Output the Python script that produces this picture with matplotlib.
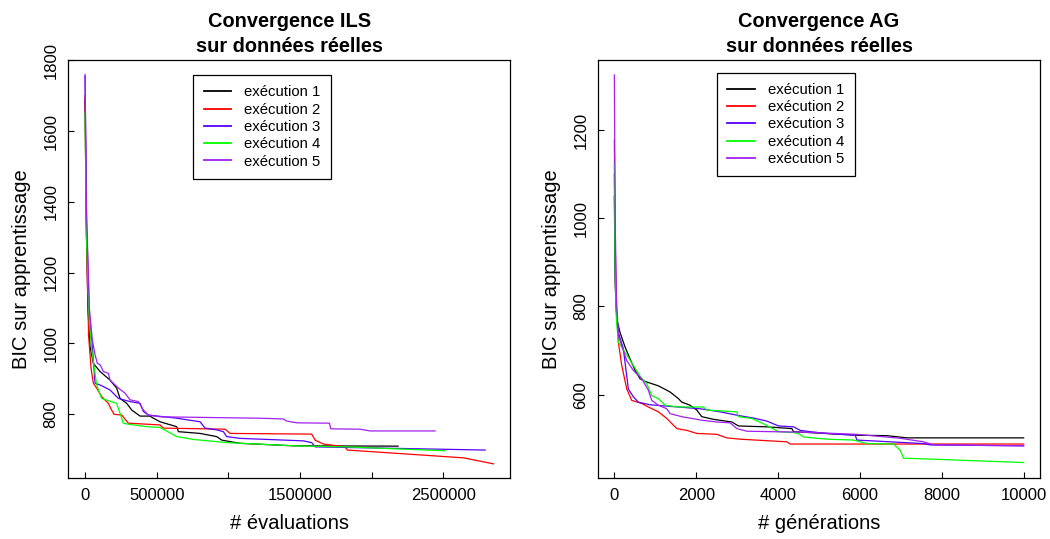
import matplotlib
matplotlib.use('Agg')
import matplotlib.pyplot as plt

plt.rcParams['font.family'] = ['Liberation Sans', 'DejaVu Sans']

colors = ['black', '#FF0000', '#5500FF', '#00FF00', '#A020F0']
labels = ['exécution 1', 'exécution 2', 'exécution 3', 'exécution 4', 'exécution 5']

# ILS : nombre d'evaluations / BIC
ils_eval_1 = [0, 8000, 20000, 35000, 58000, 105000, 174000, 221000, 244000, 291000, 326000, 384000,
              453000, 477000, 523000, 640000, 651000, 802000, 919000, 954000, 1081000, 1451000, 2184000]
ils_bic_1 = [1690, 1350, 1100, 990, 943, 920, 896, 873, 844, 830, 811, 794,
             794, 788, 778, 764, 750, 745, 736, 726, 717, 710, 709]
ils_eval_2 = [0, 10000, 25000, 42000, 58000, 81000, 116000, 163000, 179000, 202000, 256000, 302000,
              523000, 546000, 977000, 1012000, 1581000, 1605000, 1663000, 1814000, 1830000, 2639000, 2849000]
ils_bic_2 = [1700, 1300, 1020, 929, 887, 873, 849, 830, 816, 799, 797, 774,
             769, 760, 757, 745, 743, 726, 715, 707, 698, 676, 659]
ils_eval_3 = [0, 10000, 30000, 51000, 70000, 105000, 174000, 233000, 314000, 384000, 407000, 442000,
              640000, 802000, 837000, 919000, 965000, 988000, 1081000, 1523000, 1581000, 1605000, 2791000]
ils_bic_3 = [1755, 1350, 1080, 990, 887, 882, 868, 844, 835, 830, 807, 797,
             788, 778, 760, 755, 750, 736, 731, 724, 719, 707, 698]
ils_eval_4 = [0, 10000, 30000, 47000, 81000, 116000, 221000, 267000, 302000, 430000, 523000, 640000,
              756000, 988000, 1453000, 1814000, 2512000]
ils_bic_4 = [1650, 1300, 1060, 981, 882, 844, 830, 774, 771, 764, 762, 736,
             728, 719, 710, 707, 696]
ils_eval_5 = [0, 10000, 30000, 51000, 70000, 86000, 105000, 128000, 163000, 174000, 233000, 279000,
              314000, 372000, 407000, 442000, 523000, 1221000, 1383000, 1407000, 1477000, 1705000,
              1714000, 1919000, 1988000, 2442000]
ils_bic_5 = [1760, 1380, 1100, 1009, 967, 943, 939, 920, 915, 896, 873, 859,
             840, 835, 811, 797, 792, 788, 786, 780, 775, 774,
             758, 757, 752, 752]

# AG : generations / BIC
ag_gen_1 = [0, 20, 59, 139, 262, 384, 506, 628, 751, 1076, 1362, 1565, 1648, 1851, 2015, 2137,
            2421, 2870, 3032, 3726, 4338, 4377, 5927, 6660, 7150, 10000]
ag_bic_1 = [1050, 850, 771, 741, 708, 681, 655, 636, 630, 620, 606, 591, 583, 576, 565, 550,
            544, 538, 529, 527, 523, 516, 508, 507, 502, 502]
ag_gen_2 = [0, 20, 50, 98, 181, 303, 425, 670, 831, 1076, 1281, 1526, 1770, 2015, 2504, 2748,
            3073, 4215, 4296, 10000]
ag_bic_2 = [1178, 950, 800, 719, 666, 613, 587, 580, 572, 561, 546, 523, 519, 512, 510, 502,
            499, 493, 488, 488]
ag_gen_3 = [0, 20, 50, 98, 220, 342, 465, 587, 873, 1281, 2095, 2584, 3073, 3399, 3726, 4010,
            4377, 4540, 4785, 5193, 5885, 5927, 6741, 7555, 7719, 10000]
ag_bic_3 = [1100, 900, 790, 741, 704, 613, 595, 583, 577, 574, 568, 561, 552, 547, 540, 529,
            527, 519, 516, 512, 508, 497, 493, 489, 486, 484]
ag_gen_4 = [0, 20, 50, 98, 181, 465, 670, 792, 914, 1076, 1240, 1565, 2176, 2259, 2993, 3032,
            3359, 3643, 4010, 4377, 4499, 4621, 5193, 5844, 6171, 6822, 6985, 7066, 7963, 10000]
ag_bic_4 = [1125, 900, 770, 719, 708, 666, 636, 625, 598, 591, 576, 572, 572, 565, 561, 550,
            546, 534, 516, 514, 512, 504, 499, 497, 489, 488, 474, 456, 453, 446]
ag_gen_5 = [0, 20, 50, 98, 303, 465, 670, 831, 914, 1076, 1281, 1362, 1648, 2137, 2504, 2829,
            2993, 3237, 3888, 4540, 5111, 5927, 6985, 7555, 7800, 10000]
ag_bic_5 = [1325, 1000, 820, 734, 677, 655, 636, 610, 587, 576, 568, 557, 550, 542, 538, 536,
            523, 517, 516, 515, 513, 510, 501, 493, 486, 484]

ils_xticks = [0, 500000, 1000000, 1500000, 2000000, 2500000]
ils_xticklabels = ['0', '500000', '', '1500000', '', '2500000']
ils_yticks = [800, 1000, 1200, 1400, 1600, 1800]
ag_xticks = [0, 2000, 4000, 6000, 8000, 10000]
ag_yticks = [600, 800, 1000, 1200]

fig = plt.figure(figsize=(10.5, 5.39), dpi=100)
ax1 = fig.add_axes([0.0648, 0.1132, 0.421, 0.7755])
ax2 = fig.add_axes([0.5695, 0.1132, 0.421, 0.7755])

ils_runs = [(ils_eval_1, ils_bic_1), (ils_eval_2, ils_bic_2), (ils_eval_3, ils_bic_3),
            (ils_eval_4, ils_bic_4), (ils_eval_5, ils_bic_5)]
ag_runs = [(ag_gen_1, ag_bic_1), (ag_gen_2, ag_bic_2), (ag_gen_3, ag_bic_3),
           (ag_gen_4, ag_bic_4), (ag_gen_5, ag_bic_5)]

for i in range(5):
    ax1.plot(ils_runs[i][0], ils_runs[i][1], color=colors[i], lw=0.9, label=labels[i])
    ax2.plot(ag_runs[i][0], ag_runs[i][1], color=colors[i], lw=0.9, label=labels[i])

ax1.set_xlim(-118600, 2965000)
ax1.set_ylim(619, 1801)
ax1.set_xticks(ils_xticks)
ax1.set_xticklabels(ils_xticklabels)
ax1.set_yticks(ils_yticks)
ax1.set_xlabel('# évaluations', fontsize=14.5)
ax1.set_title('Convergence ILS\nsur données réelles', fontweight='bold', fontsize=14.4,
              pad=6, linespacing=1.4)

ax2.set_xlim(-400, 10400)
ax2.set_ylim(411, 1359)
ax2.set_xticks(ag_xticks)
ax2.set_yticks(ag_yticks)
ax2.set_xlabel('# générations', fontsize=14.5)
ax2.set_title('Convergence AG\nsur données réelles', fontweight='bold', fontsize=14.4,
              pad=6, linespacing=1.4)

for ax in (ax1, ax2):
    ax.set_ylabel('BIC sur apprentissage', fontsize=14.5)
    ax.tick_params(direction='in', length=4, width=0.8, labelsize=12, pad=7)
    for lbl in ax.get_yticklabels():
        lbl.set_rotation(90)
        lbl.set_va('center')
    for sp in ax.spines.values():
        sp.set_linewidth(0.9)
    ax.yaxis.set_label_coords(-0.084, 0.5)
    ax.xaxis.set_label_coords(0.5, -0.087)

ax1.legend(loc='upper left', bbox_to_anchor=(0.283, 0.964), borderaxespad=0, fontsize=10.7,
           fancybox=False, edgecolor='black', framealpha=1, handlelength=1.87,
           handletextpad=0.87, labelspacing=0.22, borderpad=0.7)
ax2.legend(loc='upper left', bbox_to_anchor=(0.269, 0.970), borderaxespad=0, fontsize=10.7,
           fancybox=False, edgecolor='black', framealpha=1, handlelength=1.87,
           handletextpad=0.87, labelspacing=0.22, borderpad=0.7)
for ax in (ax1, ax2):
    ax.get_legend().get_frame().set_linewidth(0.9)
    for l in ax.get_legend().get_lines():
        l.set_linewidth(1.3)

fig.savefig('out.png', dpi=100)
